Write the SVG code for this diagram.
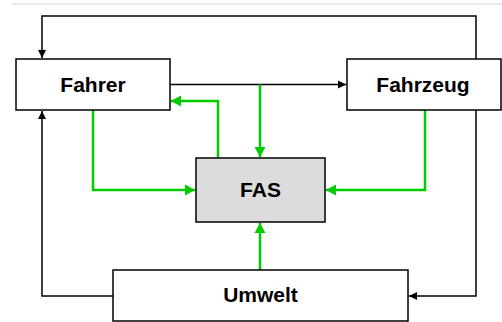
<svg xmlns="http://www.w3.org/2000/svg" width="502" height="322" viewBox="0 0 502 322">
  <style>
    .box { fill: #ffffff; stroke: #000000; stroke-width: 1.5; }
    .fas { fill: #dcdcdc; stroke: #000000; stroke-width: 1.5; }
    .label { font-family: "Liberation Sans", Arial, sans-serif; font-weight: bold; font-size: 21px; fill: #000000; text-anchor: middle; }
    .blk { fill: none; stroke: #000000; stroke-width: 1.5; }
    .grn { fill: none; stroke: #00cc00; stroke-width: 2.5; }
  </style>
  <defs>
    <marker id="arrowBlack" markerUnits="userSpaceOnUse" markerWidth="10" markerHeight="10" refX="9" refY="5" orient="auto">
      <path d="M1,1 L9,5 L1,9 Z" fill="#000000"/>
    </marker>
    <marker id="arrowGreen" markerUnits="userSpaceOnUse" markerWidth="12" markerHeight="12" refX="11" refY="6" orient="auto">
      <path d="M1,0.5 L11,6 L1,11.5 Z" fill="#00cc00"/>
    </marker>
  </defs>

  <!-- header rule -->
  <line x1="12" y1="4" x2="502" y2="4" stroke="#d4d4d4" stroke-width="1"/>

  <g id="connectors">
    <!-- black signal paths -->
    <path class="blk" d="M476,59 V16 H42 V58" marker-end="url(#arrowBlack)"/>
    <path class="blk" d="M170,84.5 H346" marker-end="url(#arrowBlack)"/>
    <path class="blk" d="M113,296 H42 V111" marker-end="url(#arrowBlack)"/>
    <path class="blk" d="M476,110 V296 H409" marker-end="url(#arrowBlack)"/>
    <!-- green assistance paths -->
    <path class="grn" d="M260,84.5 V157" marker-end="url(#arrowGreen)"/>
    <path class="grn" d="M218,158 V101 H171" marker-end="url(#arrowGreen)"/>
    <path class="grn" d="M93,110 V190 H195" marker-end="url(#arrowGreen)"/>
    <path class="grn" d="M425,110 V190 H326" marker-end="url(#arrowGreen)"/>
    <path class="grn" d="M260,270 V223" marker-end="url(#arrowGreen)"/>
  </g>

  <g id="fahrer">
    <rect class="box" x="16" y="59" width="154" height="51"/>
    <text class="label" x="93" y="92.3">Fahrer</text>
  </g>

  <g id="fahrzeug">
    <rect class="box" x="347" y="59" width="154" height="51"/>
    <text class="label" x="423" y="92.3">Fahrzeug</text>
  </g>

  <g id="fas">
    <rect class="fas" x="196" y="158" width="129" height="64"/>
    <text class="label" x="260.5" y="197">FAS</text>
  </g>

  <g id="umwelt">
    <rect class="box" x="113" y="270" width="295" height="51"/>
    <text class="label" x="260.5" y="302">Umwelt</text>
  </g>
</svg>
